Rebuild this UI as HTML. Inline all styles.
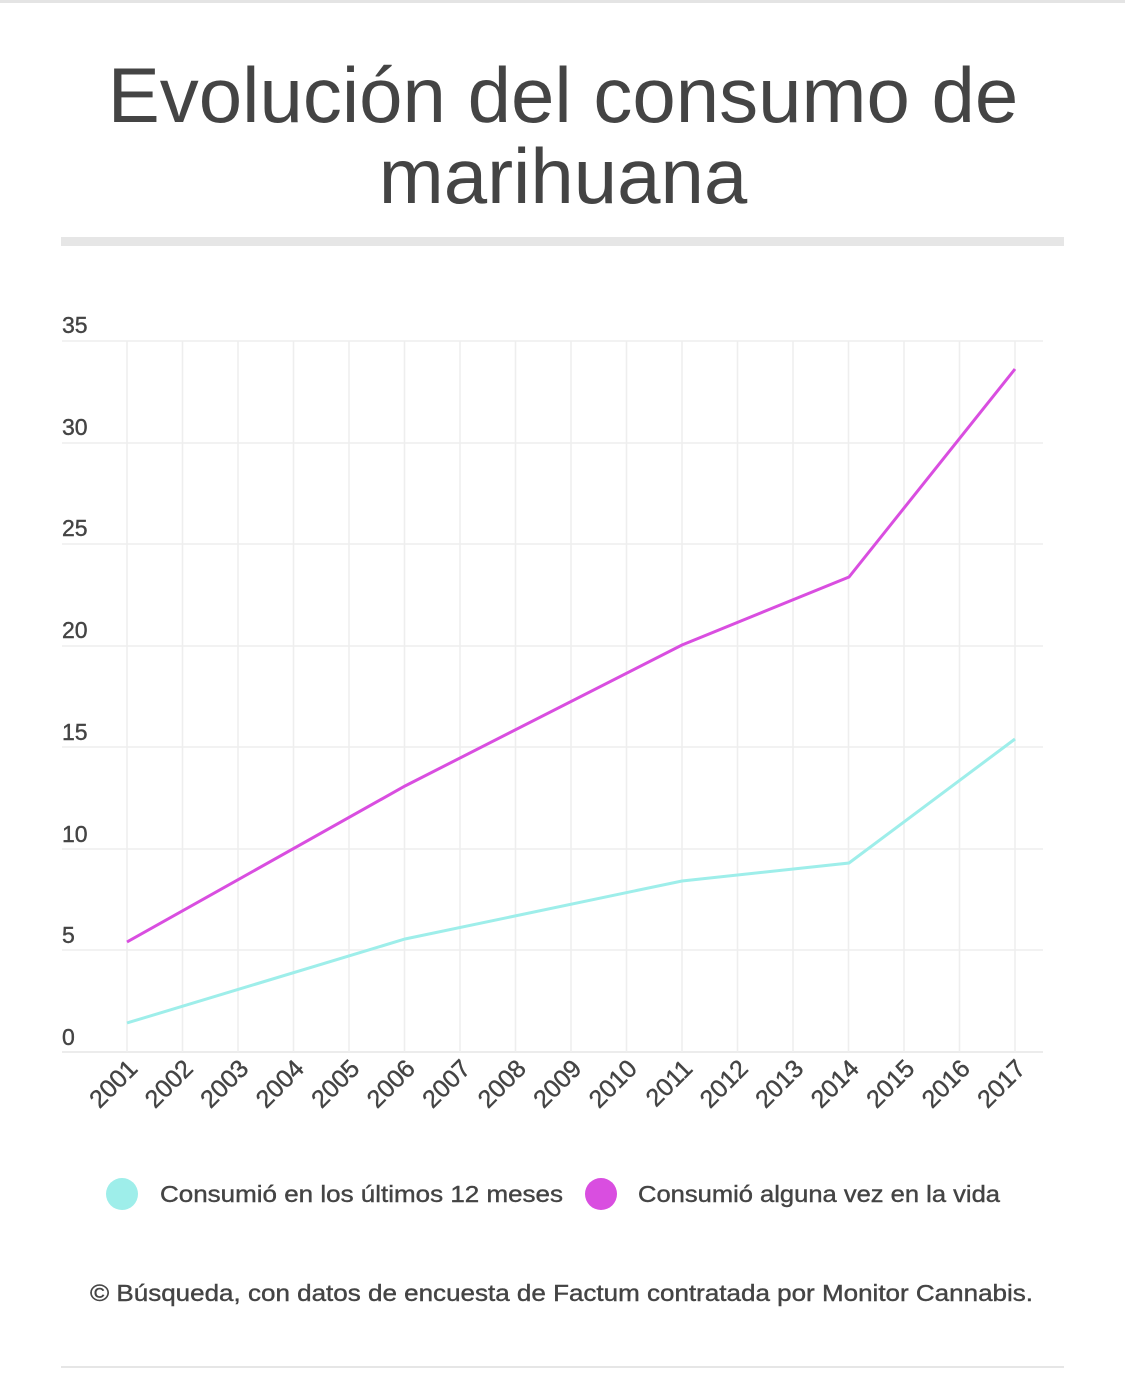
<!DOCTYPE html>
<html><head><meta charset="utf-8"><style>
body{margin:0;background:#fff;width:1125px;height:1382px;overflow:hidden;font-family:"Liberation Sans",sans-serif}
</style></head><body>
<svg width="1125" height="1382" xmlns="http://www.w3.org/2000/svg" font-family="Liberation Sans, sans-serif">
<rect x="0" y="0" width="1125" height="3" fill="#e4e4e4"/>
<text x="563" y="122" text-anchor="middle" font-size="78" fill="#444">Evolución del consumo de</text>
<text x="563" y="203" text-anchor="middle" font-size="78" fill="#444">marihuana</text>
<rect x="61" y="237" width="1003" height="9" fill="#e6e6e6"/>
<g stroke="#eeeeee" stroke-width="1.5">
<line x1="62" y1="341" x2="1043" y2="341"/><line x1="62" y1="443" x2="1043" y2="443"/>
<line x1="62" y1="544" x2="1043" y2="544"/><line x1="62" y1="646" x2="1043" y2="646"/>
<line x1="62" y1="747" x2="1043" y2="747"/><line x1="62" y1="849" x2="1043" y2="849"/>
<line x1="62" y1="950" x2="1043" y2="950"/><line x1="62" y1="1052" x2="1043" y2="1052" stroke="#e6e6e6"/>
</g>
<g stroke="#eeeeee" stroke-width="1.5" id="vg"></g>
<g font-size="23" fill="#444" stroke="#444" stroke-width="0.4">
<text x="62" y="333">35</text><text x="62" y="435">30</text><text x="62" y="536">25</text>
<text x="62" y="638">20</text><text x="62" y="740">15</text><text x="62" y="842">10</text>
<text x="62" y="943">5</text><text x="62" y="1045">0</text>
</g>
<g id="xl" font-size="25" fill="#444" stroke="#444" stroke-width="0.4"></g>
<polyline fill="none" stroke="#d94ee0" stroke-width="3" points="127,942 405,786 682,645 849,577 1015,369"/>
<polyline fill="none" stroke="#9eeeea" stroke-width="3" points="127,1023 405,939 682,881 849,863 1015,739"/>
<circle cx="122" cy="1194" r="16" fill="#9eeeea"/>
<text x="160" y="1202" font-size="23" fill="#444" stroke="#444" stroke-width="0.4" textLength="403" lengthAdjust="spacingAndGlyphs">Consumió en los últimos 12 meses</text>
<circle cx="601" cy="1194" r="16" fill="#d94ee0"/>
<text x="638" y="1202" font-size="23" fill="#444" stroke="#444" stroke-width="0.4" textLength="362" lengthAdjust="spacingAndGlyphs">Consumió alguna vez en la vida</text>
<text x="90" y="1301" font-size="23" fill="#444" stroke="#444" stroke-width="0.4" textLength="943" lengthAdjust="spacingAndGlyphs">© Búsqueda, con datos de encuesta de Factum contratada por Monitor Cannabis.</text>
<rect x="61" y="1366" width="1003" height="2" fill="#e6e6e6"/>
<script>
var vg=document.getElementById('vg'),xl=document.getElementById('xl'),ns='http://www.w3.org/2000/svg';
for(var i=0;i<17;i++){var x=127+i*55.5;
var l=document.createElementNS(ns,'line');l.setAttribute('x1',x);l.setAttribute('x2',x);l.setAttribute('y1',341);l.setAttribute('y2',1052);vg.appendChild(l);
var t=document.createElementNS(ns,'text');t.setAttribute('text-anchor','end');t.setAttribute('transform','translate('+(x+12)+',1070) rotate(-45)');t.textContent=2001+i;xl.appendChild(t);}
</script>
</svg>
</body></html>
